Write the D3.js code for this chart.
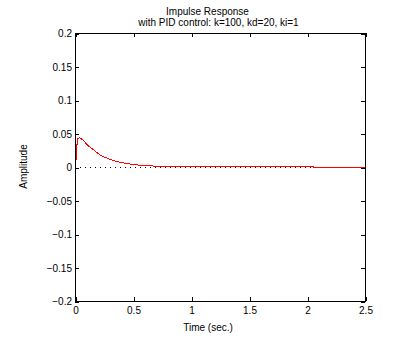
<!DOCTYPE html>
<html>
<head>
<meta charset="utf-8">
<script src="https://cdn.jsdelivr.net/npm/d3@7"></script>
<style>
  html, body { margin: 0; padding: 0; background: #fff; }
  svg { display: block; }
  text { font-family: "Liberation Sans", Arial, Helvetica, sans-serif; font-size: 10px; fill: #000; }
</style>
</head>
<body>
<svg id="chart" width="405" height="346"></svg>
<script>
// Impulse response of the pendulum angle under PID control
const timeSec = [0, 0.005, 0.012, 0.02, 0.035, 0.05, 0.07, 0.09, 0.12, 0.15, 0.18, 0.21,
                 0.25, 0.3, 0.35, 0.4, 0.45, 0.5, 0.55, 0.6, 0.68, 0.75, 1.0, 1.5, 2.05, 2.05, 2.5];
const amplitude = [0, 0.013, 0.033, 0.043, 0.0445, 0.043, 0.040, 0.036, 0.031, 0.027, 0.023, 0.019,
                   0.0155, 0.012, 0.0092, 0.0072, 0.0056, 0.0044, 0.0035, 0.0028, 0.0021, 0.0013,
                   0.0012, 0.0012, 0.0011, 0, 0];

const xTicks = [0, 0.5, 1, 1.5, 2, 2.5];
const yTicks = [-0.2, -0.15, -0.1, -0.05, 0, 0.05, 0.1, 0.15, 0.2];

const titleLines = ["Impulse Response", "with PID control: k=100, kd=20, ki=1"];
const xLabel = "Time (sec.)";
const yLabel = "Amplitude";

const plotLeft = 75, plotRight = 365, plotTop = 33, plotBottom = 301;
const svg = d3.select("#chart");

// half-pixel offsets keep 1px strokes on whole pixel rows/columns
const x = d3.scaleLinear().domain([0, 2.5]).range([plotLeft + 0.5, plotRight + 0.5]);
const y = d3.scaleLinear().domain([-0.2, 0.2]).range([plotBottom + 0.5, plotTop + 0.5]);

const tickFmt = d => d < 0 ? "\u2212" + String(Math.abs(d)) : String(d);

// zero reference line
svg.append("line")
  .attr("x1", plotLeft).attr("x2", plotRight)
  .attr("y1", y(0)).attr("y2", y(0))
  .attr("stroke", "#000").attr("stroke-width", 1)
  .attr("stroke-dasharray", "1,4")
  .attr("shape-rendering", "crispEdges");

// response curve
const line = d3.line().x((d, i) => x(timeSec[i])).y(d => y(d));
svg.append("path")
  .datum(amplitude)
  .attr("d", line)
  .attr("fill", "none")
  .attr("stroke", "#ff0000")
  .attr("stroke-width", 1)
  .attr("shape-rendering", "crispEdges");

// axes with inward ticks
function styleAxis(g) {
  g.select(".domain").remove();
  g.selectAll("line").attr("stroke", "#000").attr("shape-rendering", "crispEdges");
  g.selectAll("text").style("font-family", "'Liberation Sans', Arial, sans-serif").style("font-size", "10px").attr("fill", "#000");
}

svg.append("g").attr("transform", `translate(0,${plotBottom})`)
  .call(d3.axisBottom(x).tickValues(xTicks).tickFormat(tickFmt).tickSize(-4).tickPadding(6))
  .call(styleAxis);
svg.append("g").attr("transform", `translate(0,${plotTop})`)
  .call(d3.axisTop(x).tickValues(xTicks).tickFormat("").tickSize(-4))
  .call(styleAxis);
svg.append("g").attr("transform", `translate(${plotLeft},0)`)
  .call(d3.axisLeft(y).tickValues(yTicks).tickFormat(tickFmt).tickSize(-4).tickPadding(3))
  .call(styleAxis);
svg.append("g").attr("transform", `translate(${plotRight},0)`)
  .call(d3.axisRight(y).tickValues(yTicks).tickFormat("").tickSize(-4))
  .call(styleAxis);

// axes box
svg.append("rect")
  .attr("x", plotLeft + 0.5).attr("y", plotTop + 0.5)
  .attr("width", plotRight - plotLeft).attr("height", plotBottom - plotTop)
  .attr("fill", "none").attr("stroke", "#000").attr("stroke-width", 1)
  .attr("shape-rendering", "crispEdges");

// titles and labels
svg.append("text").attr("x", 207.5).attr("y", 15).attr("text-anchor", "middle").text(titleLines[0]);
svg.append("text").attr("x", 218.5).attr("y", 26).attr("text-anchor", "middle").text(titleLines[1]);
svg.append("text").attr("x", 208).attr("y", 331).attr("text-anchor", "middle").text(xLabel);
svg.append("text").attr("transform", "translate(27,166.5) rotate(-90)").attr("text-anchor", "middle").text(yLabel);
</script>
</body>
</html>
